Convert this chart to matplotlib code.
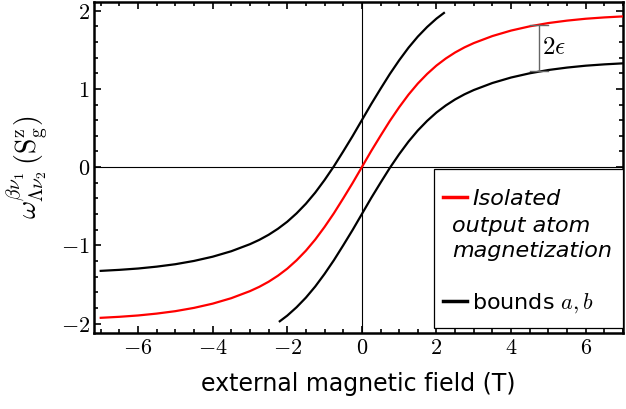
import matplotlib
matplotlib.use("Agg")
import matplotlib.pyplot as plt
from matplotlib.ticker import MultipleLocator, FixedLocator
from matplotlib.patches import Rectangle

plt.rcParams['mathtext.fontset'] = 'cm'
plt.rcParams['font.family'] = ['DejaVu Sans']

# Red curve: isolated output atom magnetization
x_red = [-7.0, -6.5, -6.0, -5.5, -5.0, -4.5, -4.0, -3.5, -3.0, -2.75, -2.5, -2.25, -2.0,
         -1.75, -1.5, -1.25, -1.0, -0.75, -0.5, -0.25, 0.0, 0.25, 0.5, 0.75, 1.0, 1.25,
         1.5, 1.75, 2.0, 2.25, 2.5, 2.75, 3.0, 3.5, 4.0, 4.5, 5.0, 5.5, 6.0, 6.5, 7.0]
y_red = [-1.926, -1.913, -1.896, -1.872, -1.841, -1.799, -1.745, -1.675, -1.585, -1.53,
         -1.465, -1.388, -1.298, -1.191, -1.068, -0.926, -0.765, -0.59, -0.40, -0.205, 0.0,
         0.205, 0.40, 0.59, 0.765, 0.926, 1.068, 1.191, 1.298, 1.388, 1.465, 1.53, 1.585,
         1.675, 1.745, 1.799, 1.841, 1.872, 1.896, 1.913, 1.926]

# Upper bound (black), from x=-7 to where it reaches the top
x_up = [-7.0, -6.5, -6.0, -5.5, -5.0, -4.5, -4.0, -3.5, -3.0, -2.75, -2.5, -2.25, -2.0,
        -1.75, -1.5, -1.25, -1.0, -0.75, -0.5, -0.25, 0.0, 0.25, 0.5, 0.75, 1.0, 1.25,
        1.5, 1.75, 2.0, 2.2]
y_up = [-1.326, -1.313, -1.296, -1.272, -1.241, -1.199, -1.145, -1.075, -0.985, -0.93,
        -0.865, -0.788, -0.698, -0.591, -0.468, -0.326, -0.165, 0.01, 0.20, 0.395, 0.6,
        0.805, 1.0, 1.19, 1.365, 1.526, 1.668, 1.791, 1.898, 1.97]

# Lower bound (black), from where it starts at the bottom to x=7
x_lo = [-2.2, -2.0, -1.75, -1.5, -1.25, -1.0, -0.75, -0.5, -0.25, 0.0, 0.25, 0.5, 0.75,
        1.0, 1.25, 1.5, 1.75, 2.0, 2.25, 2.5, 2.75, 3.0, 3.5, 4.0, 4.5, 5.0, 5.5, 6.0,
        6.5, 7.0]
y_lo = [-1.97, -1.898, -1.791, -1.668, -1.526, -1.365, -1.19, -1.0, -0.805, -0.6, -0.395,
        -0.20, -0.01, 0.165, 0.326, 0.468, 0.591, 0.698, 0.788, 0.865, 0.93, 0.985, 1.075,
        1.145, 1.199, 1.241, 1.272, 1.296, 1.313, 1.326]

# 2 epsilon marker
eps_x = 4.75
eps_top = 1.82
eps_bot = 1.23

xticks = [-6, -4, -2, 0, 2, 4, 6]
yticks = [-2, -1, 0, 1, 2]

fig = plt.figure(figsize=(6.26, 4.09), dpi=100)
ax = fig.add_axes([94/626, 76/409, 529/626, 331/409])

ax.axhline(0, color='black', lw=0.8, zorder=1)
ax.axvline(0, color='black', lw=0.8, zorder=1)

ax.plot(x_up, y_up, color='black', lw=1.6, zorder=3)
l_b, = ax.plot(x_lo, y_lo, color='black', lw=1.6, zorder=3)
l_r, = ax.plot(x_red, y_red, color='#ff0000', lw=1.6, zorder=4)

# 2 epsilon bracket
gc = '#666666'
ax.plot([eps_x, eps_x], [eps_bot, eps_top], color=gc, lw=1.0, zorder=5)
ax.plot([eps_x - 0.23, eps_x + 0.23], [eps_top, eps_top], color=gc, lw=1.0, zorder=5)
ax.plot([eps_x - 0.23, eps_x + 0.23], [eps_bot, eps_bot], color=gc, lw=1.0, zorder=5)
ax.text(eps_x + 0.08, 1.54, r'$2\epsilon$', fontsize=18, ha='left', va='center')

ax.set_xlim(-7.18, 7.0)
ax.set_ylim(-2.12, 2.11)

ax.xaxis.set_major_locator(FixedLocator(xticks))
ax.yaxis.set_major_locator(FixedLocator(yticks))
ax.set_xticklabels([r'$%d$' % v if v >= 0 else r'$-%d$' % (-v) for v in xticks])
ax.set_yticklabels([r'$%d$' % v if v >= 0 else r'$-%d$' % (-v) for v in yticks])
ax.xaxis.set_minor_locator(MultipleLocator(0.5))
ax.yaxis.set_minor_locator(MultipleLocator(0.2))
ax.tick_params(which='both', direction='in', top=True, right=True, labelsize=16,
               width=1.2)
ax.tick_params(which='major', length=5)
ax.tick_params(which='minor', length=3)
ax.tick_params(axis='y', pad=3)
for s in ax.spines.values():
    s.set_linewidth(1.8)

ax.set_xlabel('external magnetic field (T)', fontsize=17, labelpad=10)
ax.set_ylabel(r'$\omega^{\beta\nu_1}_{\Lambda\nu_2}\,(\mathrm{S}^{\mathrm{z}}_{\mathrm{g}})$',
              fontsize=20)
ax.yaxis.set_label_coords(-0.083, 0.5)

# legend
fx0, fx1 = (434 - 94) / 529, (623 - 94) / 529
fy0, fy1 = (333 - 328) / 331, (333 - 169) / 331
ax.add_patch(Rectangle((fx0, fy0), fx1 - fx0, fy1 - fy0, transform=ax.transAxes,
                       facecolor='white', edgecolor='black', lw=0.9, zorder=10))
leg = ax.legend([l_r, l_b], ['Isolated', r'bounds $a, b$'], loc='upper left',
                bbox_to_anchor=(fx0, (333 - 180) / 331), fontsize=16, frameon=False,
                handlelength=1.08, handletextpad=0.24, labelspacing=3.7,
                borderpad=0.39, borderaxespad=0)
leg.set_zorder(11)
leg.get_texts()[0].set_style('italic')
for h in leg.legend_handles:
    h.set_linewidth(2.5)
ax.text((452 - 94) / 529, (333 - 238.5) / 331, 'output atom\nmagnetization',
        transform=ax.transAxes, fontsize=16, style='italic', ha='left', va='center',
        zorder=12, linespacing=1.32)

fig.savefig('out.png', dpi=100)
